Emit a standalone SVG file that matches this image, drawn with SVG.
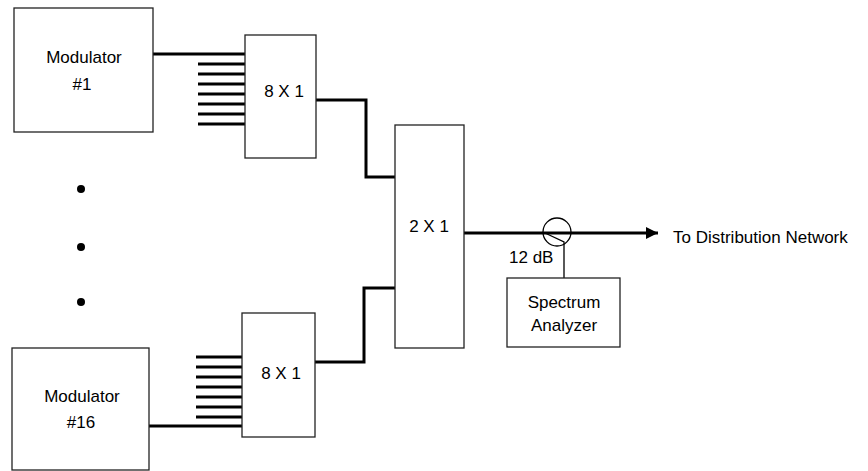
<svg xmlns="http://www.w3.org/2000/svg" width="868" height="471" viewBox="0 0 868 471">
<style>
.box{fill:#fff;stroke:#222;stroke-width:1.3}
.wire{fill:none;stroke:#000;stroke-width:3}
.thin{fill:none;stroke:#000;stroke-width:1.3}
text{font-family:"Liberation Sans",Arial,sans-serif;font-size:17px;fill:#000}
.c{text-anchor:middle}
</style>
<defs>
<marker id="arr" viewBox="0 0 10 10" refX="10" refY="5" markerWidth="6.5" markerHeight="4" markerUnits="strokeWidth" orient="auto">
<path d="M0,0 L10,5 L0,10 Z" fill="#000"/>
</marker>
</defs>
<rect width="868" height="471" fill="#fff"/>
<g id="connectors">
<path class="wire" d="M153,54 H245"/>
<path class="wire" d="M198,64 H245 M198,74 H245 M198,84 H245 M198,94 H245 M198,104 H245 M198,114 H245 M198,124 H245"/>
<path class="wire" d="M316,100 H366 V177 H395"/>
<path class="wire" d="M149,426 H242"/>
<path class="wire" d="M196,357 H242 M196,367 H242 M196,377 H242 M196,387 H242 M196,397 H242 M196,407 H242 M196,417 H242"/>
<path class="wire" d="M315,362 H364 V288 H395"/>
<path class="wire" d="M464,233 H658" marker-end="url(#arr)"/>
<path class="thin" d="M545,233 L564,242 V278"/>
</g>
<g id="coupler">
<circle cx="557" cy="232" r="14" fill="none" stroke="#000" stroke-width="1.3"/>
<text x="509" y="263">12 dB</text>
</g>
<g id="dots">
<circle cx="81" cy="189" r="4" fill="#000"/>
<circle cx="81" cy="247" r="4" fill="#000"/>
<circle cx="81" cy="302" r="4" fill="#000"/>
</g>
<g id="mod1">
<rect class="box" x="14" y="8" width="139" height="124"/>
<text class="c" x="84" y="63">Modulator</text>
<text class="c" x="82" y="90">#1</text>
</g>
<g id="mod16">
<rect class="box" x="12" y="348" width="137" height="122"/>
<text class="c" x="82" y="402">Modulator</text>
<text class="c" x="81" y="428">#16</text>
</g>
<g id="comb1">
<rect class="box" x="245" y="35" width="71" height="123"/>
<text class="c" x="284" y="97">8 X 1</text>
</g>
<g id="comb2">
<rect class="box" x="242" y="313" width="73" height="124"/>
<text class="c" x="281" y="379">8 X 1</text>
</g>
<g id="comb3">
<rect class="box" x="395" y="125" width="69" height="223"/>
<text class="c" x="429" y="232">2 X 1</text>
</g>
<g id="analyzer">
<rect class="box" x="507" y="278" width="113" height="69"/>
<text class="c" x="564" y="308">Spectrum</text>
<text class="c" x="564" y="331">Analyzer</text>
</g>
<g id="output">
<text x="673" y="243">To Distribution Network</text>
</g>
</svg>
